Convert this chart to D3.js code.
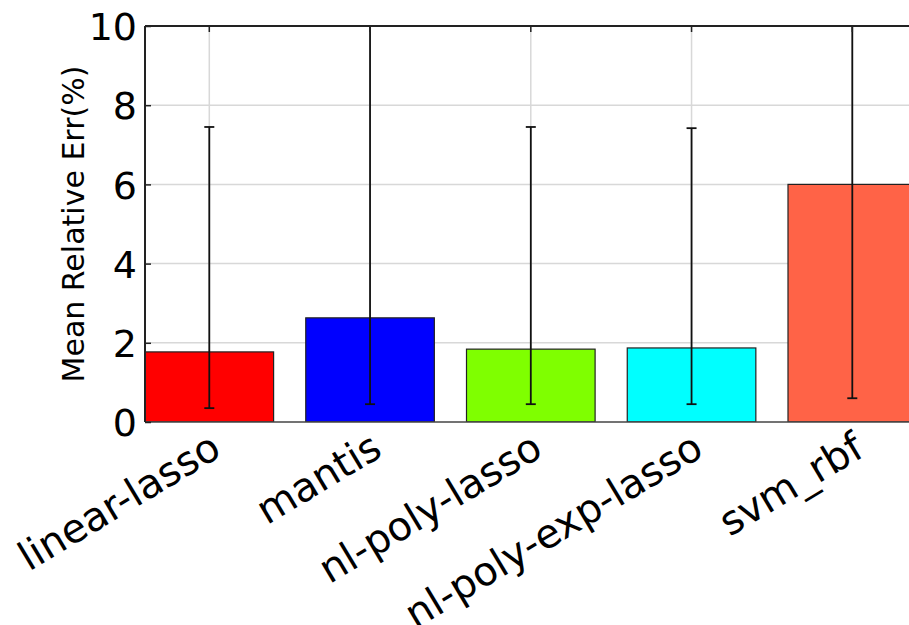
<!DOCTYPE html>
<html>
<head>
<meta charset="utf-8">
<script src="https://cdnjs.cloudflare.com/ajax/libs/d3/7.8.5/d3.min.js"></script>
<style>
  body { margin: 0; background: #fff; }
  svg { display: block; font-family: "DejaVu Sans", sans-serif; }
</style>
</head>
<body>
<div id="chart"></div>
<script>
var methods = ["linear-lasso", "mantis", "nl-poly-lasso", "nl-poly-exp-lasso", "svm_rbf"];
var meanErr = [1.77, 2.63, 1.84, 1.87, 6.0];
var errLow = [0.35, 0.45, 0.45, 0.45, 0.6];
var errHigh = [7.45, 11.5, 7.45, 7.42, 12.0];
var colors = ["#ff0000", "#0000ff", "#7fff00", "#00ffff", "#ff6347"];
var yTicks = [0, 2, 4, 6, 8, 10];

var width = 909, height = 625;
var plotLeft = 145, plotTop = 26, plotBottom = 422;

var svg = d3.select("#chart").append("svg")
    .attr("width", width)
    .attr("height", height);

// bars start at integer positions, width 0.8 like matplotlib
var x = d3.scaleLinear().domain([0, 5]).range([plotLeft, plotLeft + 5 * 160.75]);
var y = d3.scaleLinear().domain([0, 10]).range([plotBottom, plotTop]);
var barW = 0.8;

svg.append("clipPath").attr("id", "clip")
    .append("rect").attr("x", plotLeft).attr("y", plotTop)
    .attr("width", width - plotLeft).attr("height", plotBottom - plotTop);

var plot = svg.append("g");

// grid
plot.selectAll(".hgrid").data(yTicks.slice(1, -1)).enter().append("line")
    .attr("x1", plotLeft).attr("x2", width)
    .attr("y1", d => y(d)).attr("y2", d => y(d))
    .attr("stroke", "#d8d8d8").attr("stroke-width", 1.5);
plot.selectAll(".vgrid").data(methods).enter().append("line")
    .attr("x1", (d, i) => x(i + barW / 2)).attr("x2", (d, i) => x(i + barW / 2))
    .attr("y1", plotTop).attr("y2", plotBottom)
    .attr("stroke", "#d8d8d8").attr("stroke-width", 1.5);

var g = plot.append("g").attr("clip-path", "url(#clip)");

g.selectAll(".bar").data(meanErr).enter().append("rect")
    .attr("x", (d, i) => x(i))
    .attr("width", (d, i) => x(i + barW) - x(i))
    .attr("y", d => y(d))
    .attr("height", d => plotBottom - y(d))
    .attr("fill", (d, i) => colors[i])
    .attr("stroke", "#222").attr("stroke-width", 1.2);

// error bars
var eb = g.selectAll(".err").data(methods).enter().append("g");
eb.append("line")
    .attr("x1", (d, i) => x(i + barW / 2)).attr("x2", (d, i) => x(i + barW / 2))
    .attr("y1", (d, i) => y(errLow[i])).attr("y2", (d, i) => y(errHigh[i]))
    .attr("stroke", "#111").attr("stroke-width", 1.8);
eb.append("line")
    .attr("x1", (d, i) => x(i + barW / 2) - 5).attr("x2", (d, i) => x(i + barW / 2) + 5)
    .attr("y1", (d, i) => y(errLow[i])).attr("y2", (d, i) => y(errLow[i]))
    .attr("stroke", "#111").attr("stroke-width", 1.8);
eb.append("line")
    .attr("x1", (d, i) => x(i + barW / 2) - 5).attr("x2", (d, i) => x(i + barW / 2) + 5)
    .attr("y1", (d, i) => y(errHigh[i])).attr("y2", (d, i) => y(errHigh[i]))
    .attr("stroke", "#111").attr("stroke-width", 1.8);

// spines
svg.append("line").attr("x1", plotLeft).attr("x2", width).attr("y1", plotTop).attr("y2", plotTop)
    .attr("stroke", "#222").attr("stroke-width", 2);
svg.append("line").attr("x1", plotLeft).attr("x2", width).attr("y1", plotBottom).attr("y2", plotBottom)
    .attr("stroke", "#444").attr("stroke-width", 1.5);
svg.append("line").attr("x1", plotLeft).attr("x2", plotLeft).attr("y1", plotTop).attr("y2", plotBottom)
    .attr("stroke", "#222").attr("stroke-width", 2);

// y axis (ticks inward)
var yAxis = d3.axisLeft(y).tickValues(yTicks).tickSizeInner(-6).tickSizeOuter(0).tickPadding(8);
var ya = svg.append("g").attr("transform", "translate(" + plotLeft + ",0)").call(yAxis);
ya.select(".domain").remove();
ya.selectAll("text").attr("font-size", 38).attr("fill", "#000").attr("dy", "0.36em")
    .attr("font-family", "DejaVu Sans, sans-serif");
ya.selectAll("line").attr("stroke", "#222").attr("stroke-width", 1.5);

// top ticks at bar centers
svg.selectAll(".ttick").data(methods).enter().append("line")
    .attr("x1", (d, i) => x(i + barW / 2)).attr("x2", (d, i) => x(i + barW / 2))
    .attr("y1", plotTop).attr("y2", plotTop + 6)
    .attr("stroke", "#222").attr("stroke-width", 1.5);

// x labels
svg.selectAll(".xlab").data(methods).enter().append("text")
    .attr("transform", (d, i) => "translate(" + (x(i + barW / 2) + 14) + "," + 455 + ") rotate(-31)")
    .attr("text-anchor", "end")
    .attr("font-size", 40)
    .attr("fill", "#000")
    .text(d => d);

svg.append("text")
    .attr("transform", "translate(84,224) rotate(-90)")
    .attr("text-anchor", "middle")
    .attr("font-size", 30)
    .attr("fill", "#000")
    .text("Mean Relative Err(%)");
</script>
</body>
</html>
